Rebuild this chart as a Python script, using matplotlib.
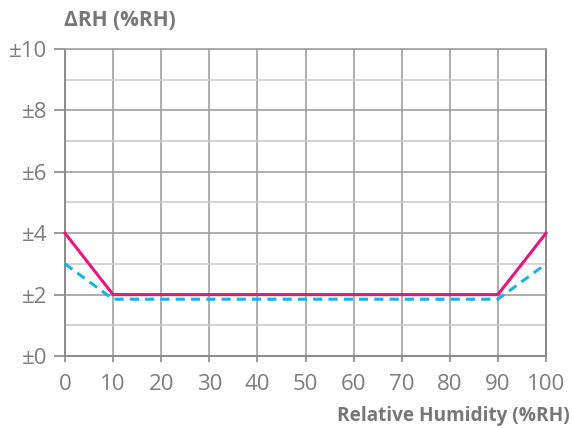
import matplotlib
matplotlib.use("Agg")
import matplotlib.pyplot as plt
from matplotlib.ticker import MultipleLocator

# Humidity accuracy chart: delta RH against relative humidity

rh = [0, 10, 90, 100]
max_err = [4, 2, 2, 4]
typ_err = [3, 1.85, 1.85, 3]

x_ticks = list(range(0, 101, 10))
y_ticks = list(range(0, 11, 2))
y_labels = ["\u00b1%d" % v for v in y_ticks]

grey = "#777777"
plt.rcParams["font.family"] = ["Open Sans", "DejaVu Sans"]

fig = plt.figure(figsize=(5.72, 4.28), dpi=100)
ax = fig.add_axes([65 / 572, 72 / 428, 481 / 572, 307 / 428])

ax.plot(rh, max_err, color="#e6157f", lw=2.2, zorder=3, clip_on=False)
ax.plot(rh, typ_err, color="#1ab0e8", lw=2.2, ls=(0, (3, 2)), zorder=3, clip_on=False)

ax.set_xlim(0, 100)
ax.set_ylim(0, 10)
ax.set_xticks(x_ticks)
ax.set_yticks(y_ticks)
ax.set_yticklabels(y_labels)
ax.yaxis.set_minor_locator(MultipleLocator(1))

ax.grid(which="major", color="#a0a0a0", lw=1.2)
ax.grid(which="minor", axis="y", color="#cccccc", lw=1.2)
ax.set_axisbelow(True)

for side in ["left", "right", "bottom", "top"]:
    ax.spines[side].set_color("#8a8a8a")
    ax.spines[side].set_linewidth(1.4)
ax.spines["top"].set_color("#a0a0a0")
ax.spines["top"].set_linewidth(1.2)

ax.tick_params(axis="both", which="major", colors="#8a8a8a", labelcolor="#7d7d7d",
               labelsize=16, length=8, width=1.2)
ax.tick_params(axis="x", length=4, pad=9)
ax.tick_params(axis="y", pad=5)
ax.tick_params(axis="y", which="minor", length=0)

fig.text(64 / 572, 1 - 20 / 428, "\u0394RH (%RH)", color=grey, fontsize=15,
         fontweight="bold", ha="left", va="center")
fig.text(570 / 572, 1 - 416 / 428, "Relative Humidity (%RH)", color=grey,
         fontsize=13.7, fontweight="bold", ha="right", va="center")

fig.savefig("out.png", dpi=100)
